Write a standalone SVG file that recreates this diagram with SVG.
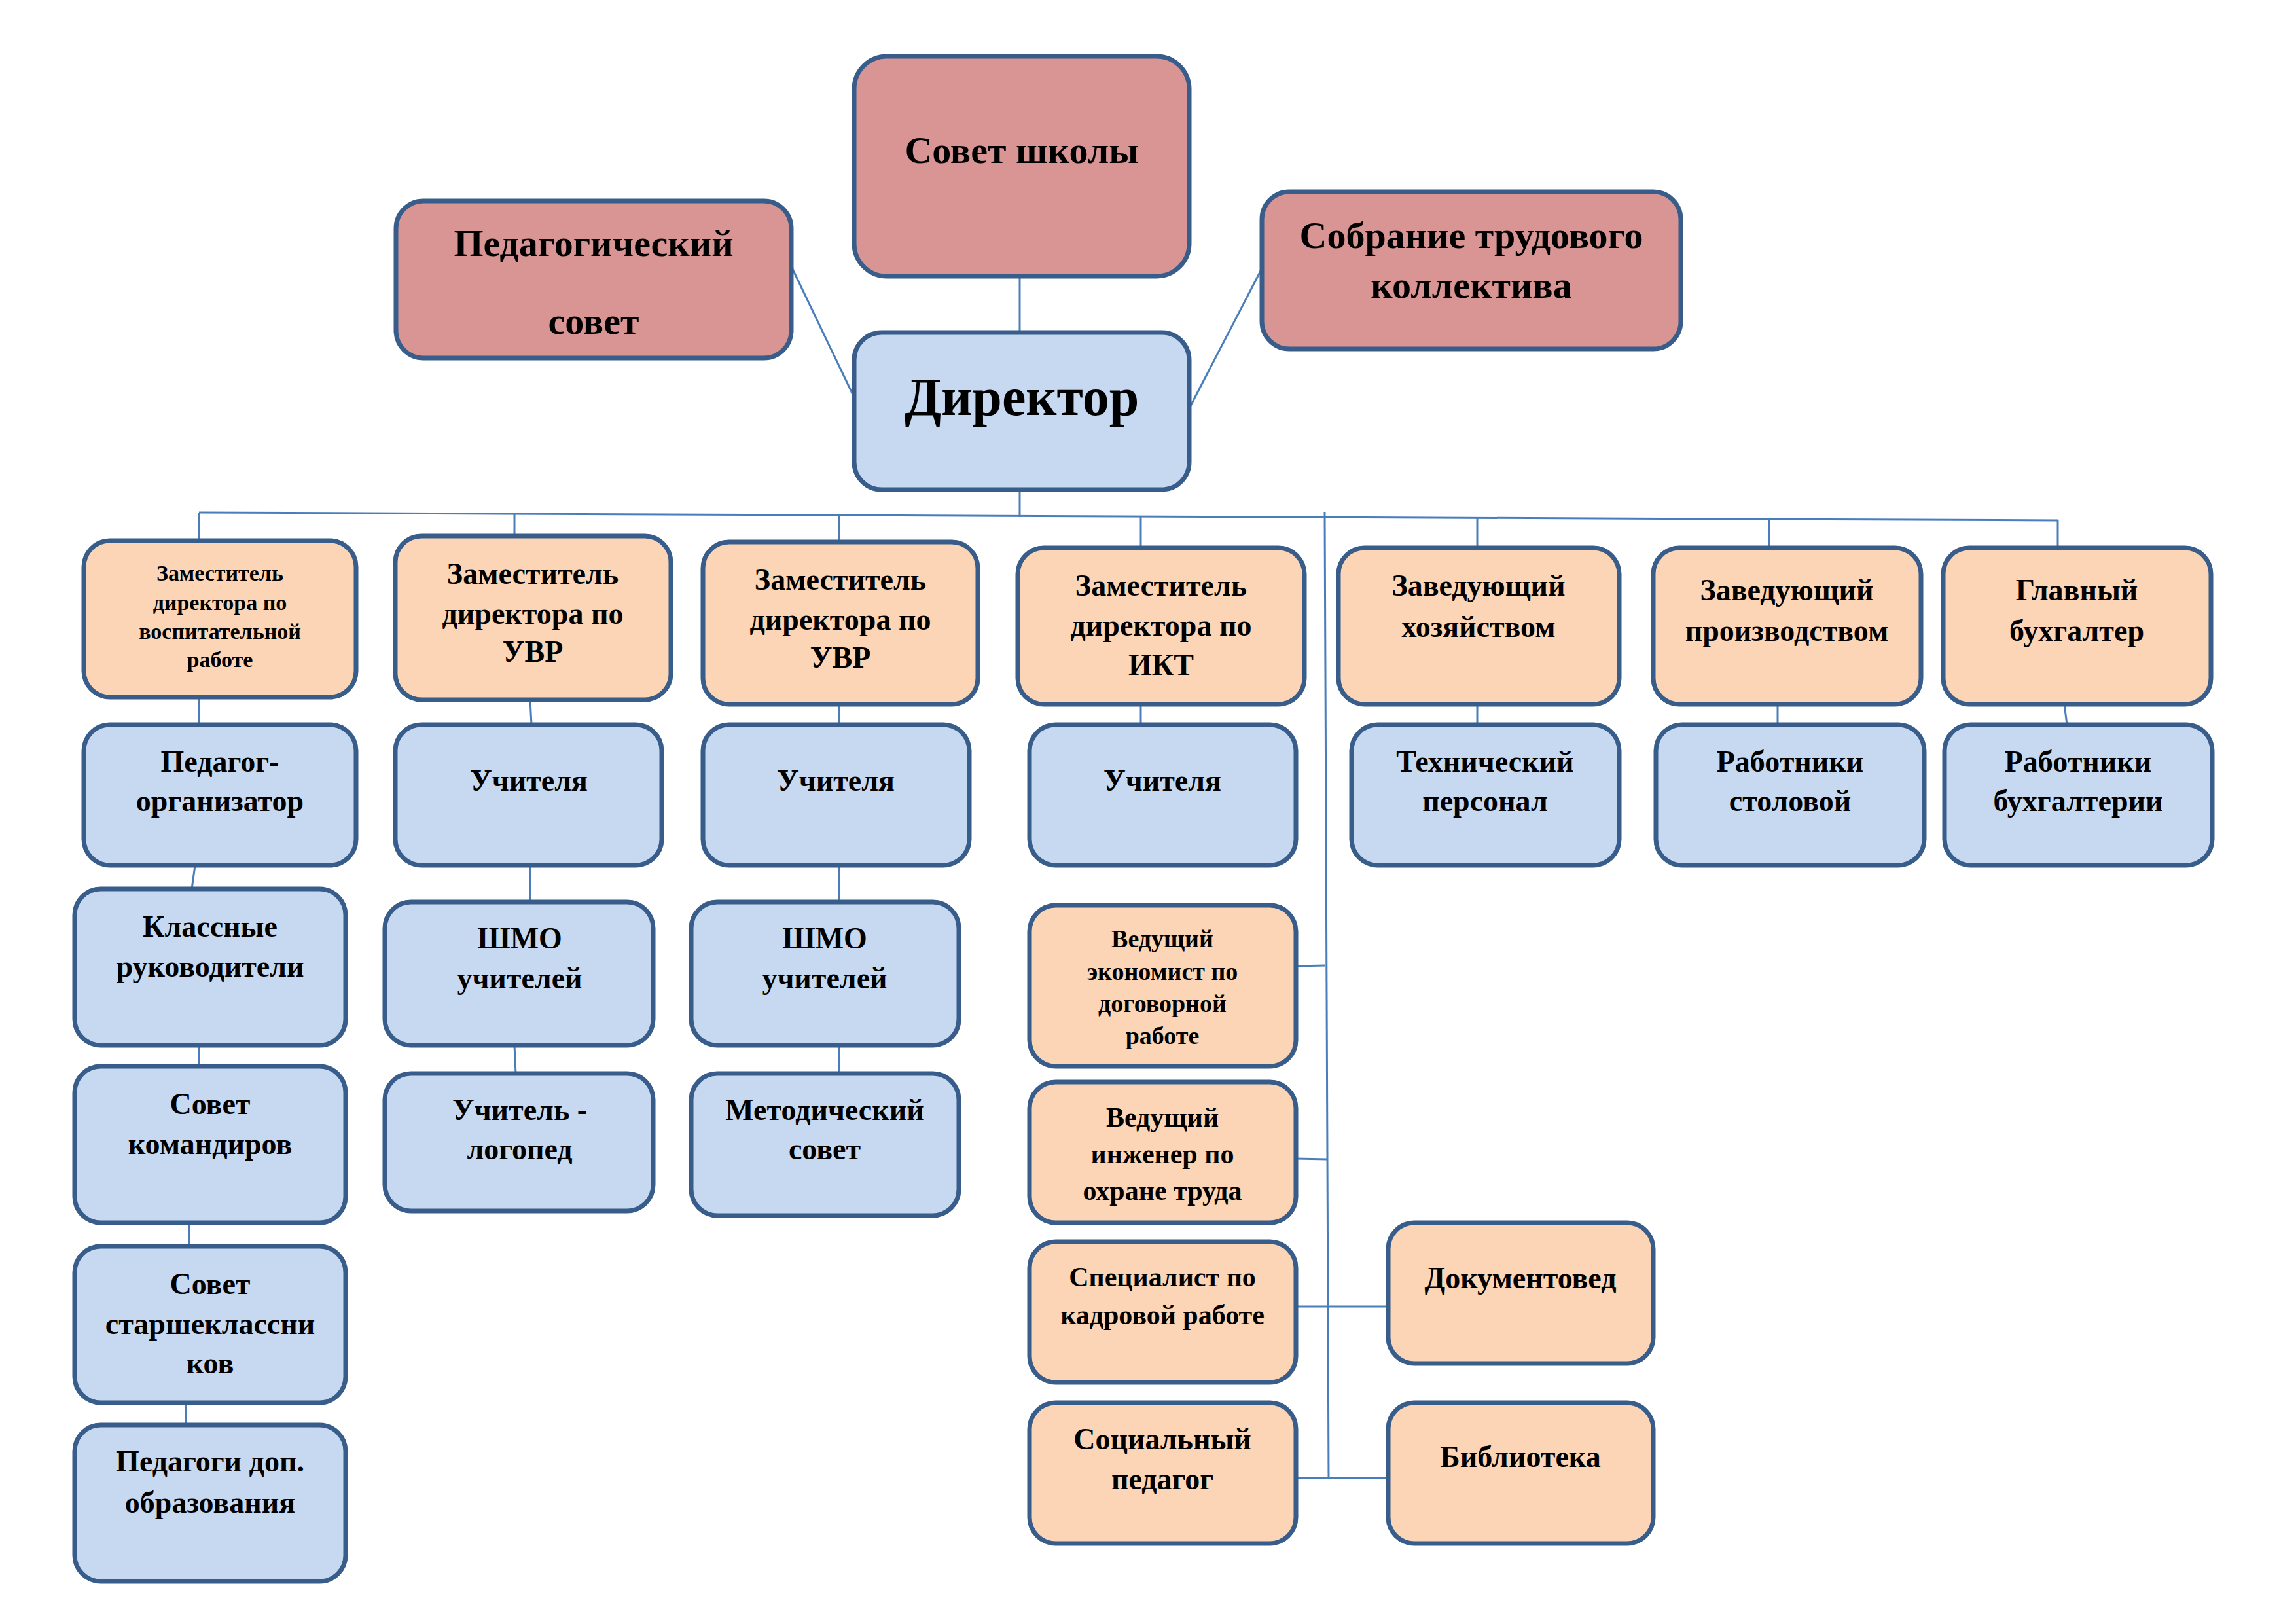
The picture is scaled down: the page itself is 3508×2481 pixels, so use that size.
<svg xmlns="http://www.w3.org/2000/svg" width="3508" height="2481" viewBox="0 0 3508 2481">
<style>
.b{stroke:#385d8a;stroke-width:7}
.pk{fill:#d99594}
.bl{fill:#c6d9f1}
.pe{fill:#fbd5b5}
.t{font-family:"Liberation Serif","Times New Roman",serif;font-weight:bold;fill:#000;text-anchor:middle}
.f58{font-size:58px}
.f82{font-size:82px}
.f46{font-size:46px}
.f42{font-size:42px}
.f38{font-size:38px}
.f34{font-size:34px}
.c{fill:none;stroke:#4a7ebb;stroke-width:3}
</style>
<rect width="3508" height="2481" fill="#fff"/>
<g id="connectors">
<line class="c" x1="1558" y1="421" x2="1558" y2="508"/>
<line class="c" x1="1210" y1="409" x2="1305" y2="607"/>
<line class="c" x1="1928" y1="410" x2="1819" y2="620"/>
<line class="c" x1="1558" y1="747" x2="1558" y2="790"/>
<polyline class="c" points="304,783 3144,795"/>
<line class="c" x1="304" y1="783" x2="304" y2="826"/>
<line class="c" x1="786" y1="785" x2="786" y2="819"/>
<line class="c" x1="1282" y1="787" x2="1282" y2="828"/>
<line class="c" x1="1743" y1="790" x2="1743" y2="837"/>
<line class="c" x1="2257" y1="792" x2="2257" y2="837"/>
<line class="c" x1="2703" y1="792" x2="2703" y2="837"/>
<line class="c" x1="3144" y1="795" x2="3144" y2="837"/>
<line class="c" x1="2024" y1="782" x2="2030" y2="2258"/>
<line class="c" x1="304" y1="1065" x2="304" y2="1107"/>
<line class="c" x1="298" y1="1322" x2="293" y2="1358"/>
<line class="c" x1="304" y1="1597" x2="304" y2="1629"/>
<line class="c" x1="289" y1="1868" x2="289" y2="1904"/>
<line class="c" x1="284" y1="2143" x2="284" y2="2177"/>
<line class="c" x1="810" y1="1069" x2="812" y2="1107"/>
<line class="c" x1="810" y1="1322" x2="810" y2="1378"/>
<line class="c" x1="786" y1="1597" x2="788" y2="1640"/>
<line class="c" x1="1282" y1="1076" x2="1282" y2="1107"/>
<line class="c" x1="1282" y1="1322" x2="1282" y2="1378"/>
<line class="c" x1="1282" y1="1597" x2="1282" y2="1640"/>
<line class="c" x1="1743" y1="1076" x2="1743" y2="1107"/>
<line class="c" x1="2257" y1="1076" x2="2257" y2="1107"/>
<line class="c" x1="2716" y1="1076" x2="2716" y2="1107"/>
<line class="c" x1="3154" y1="1076" x2="3158" y2="1107"/>
<polyline class="c" points="1980,1476 2025,1475"/>
<polyline class="c" points="1980,1770 2028,1771"/>
<line class="c" x1="1980" y1="1996" x2="2121" y2="1996"/>
<line class="c" x1="1980" y1="2258" x2="2121" y2="2258"/>
</g>
<g id="sovet-shkoly"><rect class="b pk" x="1305" y="86" width="512" height="336" rx="50"/><text class="t f58" x="1561" y="249">Совет школы</text></g>
<g id="pedsovet"><rect class="b pk" x="605" y="307" width="604" height="240" rx="42"/><text class="t f58" x="907" y="391">Педагогический</text><text class="t f58" x="907" y="510">совет</text></g>
<g id="sobranie"><rect class="b pk" x="1928" y="293" width="640" height="240" rx="42"/><text class="t f58" x="2248" y="379">Собрание трудового</text><text class="t f58" x="2248" y="455">коллектива</text></g>
<g id="direktor"><rect class="b bl" x="1305" y="508" width="512" height="240" rx="42"/><text class="t f82" x="1561" y="634">Директор</text></g>

<g id="zam-vr"><rect class="b pe" x="128" y="826" width="416" height="239" rx="40"/><text class="t f34" x="336" y="887">Заместитель</text><text class="t f34" x="336" y="932">директора по</text><text class="t f34" x="336" y="976">воспитательной</text><text class="t f34" x="336" y="1019">работе</text></g>
<g id="zam-uvr1"><rect class="b pe" x="604" y="819" width="421" height="250" rx="40"/><text class="t f46" x="814" y="892">Заместитель</text><text class="t f46" x="814" y="953">директора по</text><text class="t f46" x="814" y="1011">УВР</text></g>
<g id="zam-uvr2"><rect class="b pe" x="1074" y="828" width="420" height="248" rx="40"/><text class="t f46" x="1284" y="901">Заместитель</text><text class="t f46" x="1284" y="962">директора по</text><text class="t f46" x="1284" y="1020">УВР</text></g>
<g id="zam-ikt"><rect class="b pe" x="1555" y="837" width="438" height="239" rx="40"/><text class="t f46" x="1774" y="910">Заместитель</text><text class="t f46" x="1774" y="971">директора по</text><text class="t f46" x="1774" y="1031">ИКТ</text></g>
<g id="zav-hoz"><rect class="b pe" x="2045" y="837" width="429" height="239" rx="40"/><text class="t f46" x="2259" y="910">Заведующий</text><text class="t f46" x="2259" y="973">хозяйством</text></g>
<g id="zav-proizv"><rect class="b pe" x="2526" y="837" width="409" height="239" rx="40"/><text class="t f46" x="2730" y="917">Заведующий</text><text class="t f46" x="2730" y="979">производством</text></g>
<g id="glavbukh"><rect class="b pe" x="2969" y="837" width="409" height="239" rx="40"/><text class="t f46" x="3173" y="917">Главный</text><text class="t f46" x="3173" y="979">бухгалтер</text></g>

<g id="pedorg"><rect class="b bl" x="128" y="1107" width="416" height="215" rx="40"/><text class="t f46" x="336" y="1179">Педагог-</text><text class="t f46" x="336" y="1239">организатор</text></g>
<g id="uch1"><rect class="b bl" x="604" y="1107" width="407" height="215" rx="40"/><text class="t f46" x="808" y="1208">Учителя</text></g>
<g id="uch2"><rect class="b bl" x="1074" y="1107" width="407" height="215" rx="40"/><text class="t f46" x="1277" y="1208">Учителя</text></g>
<g id="uch3"><rect class="b bl" x="1573" y="1107" width="407" height="215" rx="40"/><text class="t f46" x="1776" y="1208">Учителя</text></g>
<g id="tech"><rect class="b bl" x="2065" y="1107" width="409" height="215" rx="40"/><text class="t f46" x="2269" y="1179">Технический</text><text class="t f46" x="2269" y="1239">персонал</text></g>
<g id="stol"><rect class="b bl" x="2530" y="1107" width="410" height="215" rx="40"/><text class="t f46" x="2735" y="1179">Работники</text><text class="t f46" x="2735" y="1239">столовой</text></g>
<g id="buh"><rect class="b bl" x="2971" y="1107" width="409" height="215" rx="40"/><text class="t f46" x="3175" y="1179">Работники</text><text class="t f46" x="3175" y="1239">бухгалтерии</text></g>

<g id="klass"><rect class="b bl" x="114" y="1358" width="414" height="239" rx="40"/><text class="t f46" x="321" y="1431">Классные</text><text class="t f46" x="321" y="1492">руководители</text></g>
<g id="komand"><rect class="b bl" x="114" y="1629" width="414" height="239" rx="40"/><text class="t f46" x="321" y="1702">Совет</text><text class="t f46" x="321" y="1763">командиров</text></g>
<g id="starsh"><rect class="b bl" x="114" y="1904" width="414" height="239" rx="40"/><text class="t f46" x="321" y="1977">Совет</text><text class="t f46" x="321" y="2038">старшеклассни</text><text class="t f46" x="321" y="2098">ков</text></g>
<g id="dop"><rect class="b bl" x="114" y="2177" width="414" height="239" rx="40"/><text class="t f46" x="321" y="2248">Педагоги доп.</text><text class="t f46" x="321" y="2311">образования</text></g>

<g id="shmo1"><rect class="b bl" x="588" y="1378" width="410" height="219" rx="40"/><text class="t f46" x="794" y="1449">ШМО</text><text class="t f46" x="794" y="1510">учителей</text></g>
<g id="logoped"><rect class="b bl" x="588" y="1640" width="410" height="210" rx="40"/><text class="t f46" x="794" y="1711">Учитель -</text><text class="t f46" x="794" y="1771">логопед</text></g>
<g id="shmo2"><rect class="b bl" x="1056" y="1378" width="409" height="219" rx="40"/><text class="t f46" x="1260" y="1449">ШМО</text><text class="t f46" x="1260" y="1510">учителей</text></g>
<g id="metod"><rect class="b bl" x="1056" y="1640" width="409" height="217" rx="40"/><text class="t f46" x="1260" y="1711">Методический</text><text class="t f46" x="1260" y="1771">совет</text></g>

<g id="ekonom"><rect class="b pe" x="1573" y="1383" width="407" height="246" rx="40"/><text class="t f38" x="1776" y="1447">Ведущий</text><text class="t f38" x="1776" y="1497">экономист по</text><text class="t f38" x="1776" y="1546">договорной</text><text class="t f38" x="1776" y="1595">работе</text></g>
<g id="inzh"><rect class="b pe" x="1573" y="1653" width="407" height="215" rx="40"/><text class="t f42" x="1776" y="1721">Ведущий</text><text class="t f42" x="1776" y="1777">инженер по</text><text class="t f42" x="1776" y="1833">охране труда</text></g>
<g id="kadr"><rect class="b pe" x="1573" y="1897" width="407" height="215" rx="40"/><text class="t f42" x="1776" y="1965">Специалист по</text><text class="t f42" x="1776" y="2023">кадровой работе</text></g>
<g id="socped"><rect class="b pe" x="1573" y="2143" width="407" height="215" rx="40"/><text class="t f46" x="1776" y="2214">Социальный</text><text class="t f46" x="1776" y="2275">педагог</text></g>
<g id="dokument"><rect class="b pe" x="2121" y="1868" width="405" height="215" rx="40"/><text class="t f46" x="2323" y="1968">Документовед</text></g>
<g id="biblio"><rect class="b pe" x="2121" y="2143" width="405" height="215" rx="40"/><text class="t f46" x="2323" y="2241">Библиотека</text></g>
</svg>
